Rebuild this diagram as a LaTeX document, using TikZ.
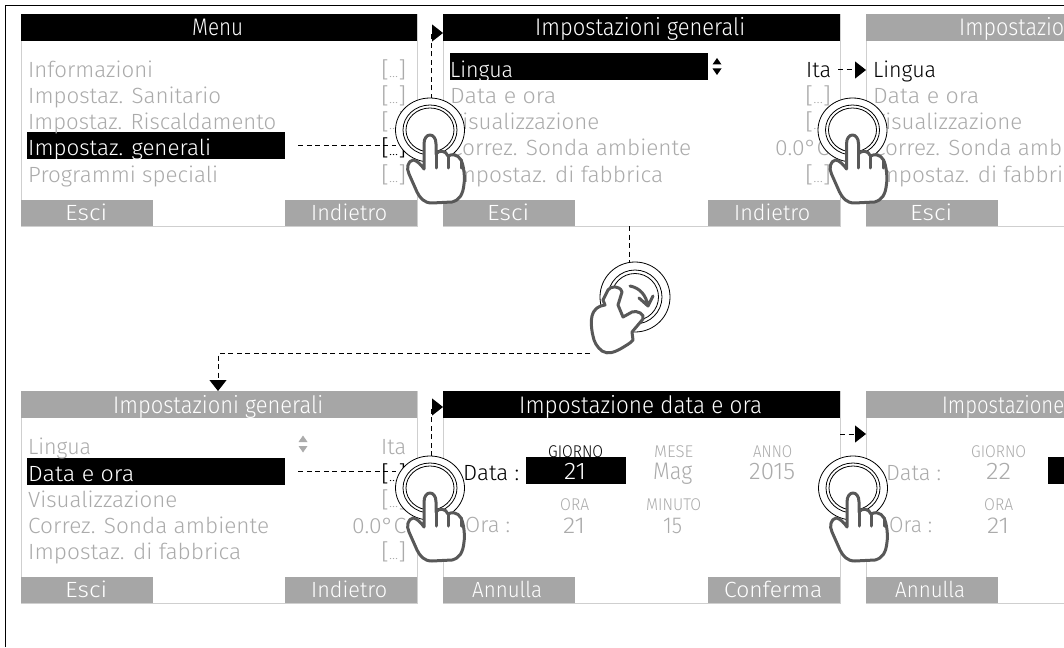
\documentclass[tikz,border=0pt]{standalone}
\usepackage{fontspec}
\usepackage{graphicx}
\setmainfont{Fira Sans Light}
\usetikzlibrary{arrows.meta,shapes.geometric}
\definecolor{soft}{HTML}{ABABAB}
\definecolor{barg}{HTML}{A6A6A6}
\definecolor{edgeg}{HTML}{CFCFCF}
\definecolor{handg}{HTML}{585858}
\newcounter{tc}
\newcommand{\T}[6][22]{\stepcounter{tc}\node[name=t\thetc,anchor=base west,inner sep=0pt,text=#5] at (#2,#3) {\resizebox{#4pt}{\height}{\fontsize{#1pt}{#1pt}\selectfont #6}};}
\newcommand{\Dt}{[{\fontsize{13pt}{13pt}\selectfont...}]}
\newcommand{\Panel}[6]{% name, x0, y0, x1, header colour, extra
  \node[name=#1,minimum width=#4pt-#2pt,minimum height=212pt,draw=edgeg,line width=1pt,anchor=north west,inner sep=0pt] at (#2,#3) {};
  \node[name=#1h,minimum width=#4pt-#2pt,minimum height=27pt,fill=#5,anchor=north west,inner sep=0pt] at (#2,#3) {};
  \node[name=#1f,minimum width=132pt,minimum height=26pt,fill=barg,anchor=south west,inner sep=0pt] at ([yshift=-212pt]#2,#3) {};
  #6}
\newcommand{\RightFoot}[2]{\node[name=#1,minimum width=132pt,minimum height=26pt,fill=barg,anchor=south east,inner sep=0pt] at (#2) {};}
\newcommand{\Bar}[5]{\node[name=#1,minimum width=#4pt-#2pt,minimum height=#5pt,fill=black,anchor=north west,inner sep=0pt] at (#2,#3) {};}
\newcommand{\Updown}[3]{\fill[#3] (#1-4.5,#2-2) -- (#1+4.5,#2-2) -- (#1,#2-8.5) -- cycle (#1-4.5,#2+2) -- (#1+4.5,#2+2) -- (#1,#2+8.5) -- cycle;}
\tikzset{
  x=1pt,y=-1pt,
  link/.style={line width=1pt,black,dash pattern=on 5pt off 3.5pt},
  tip/.style={-{Triangle[length=11pt,width=17pt,black]}},
  ring/.style={ellipse,draw=black,line width=0.8pt,fill=white,inner sep=0pt},
  hand/.style={draw=handg,line width=3pt,fill=white,line join=round,line cap=round},
}
\newcommand{\Button}[3]{%
  \node[ring,name=#1,minimum width=69pt,minimum height=64pt] at (#2,#3) {};
  \node[ring,name=#1m,minimum width=54pt,minimum height=50pt] at (#2,#3) {};
  \node[ring,name=#1i,minimum width=48pt,minimum height=44pt] at (#2,#3) {};
  \begin{scope}[shift={(#2,#3)}]
    \draw[hand] (-6,30) -- (-6,14) .. controls (-6,2) and (6,2) .. (6,14) -- (6,24)
      .. controls (8,20) and (16,20) .. (18,26) .. controls (21,24) and (28,24) .. (31,30)
      .. controls (34,36) and (35,48) .. (34,54) .. controls (33,64) and (30,70) .. (22,72)
      -- (2,73) .. controls (-6,73) and (-10,68) .. (-13,62) -- (-21,44)
      .. controls (-24,38) and (-22,31) .. (-17,30) .. controls (-13,30) and (-8,36) .. (-6,39) -- cycle;
    \draw[hand,fill=none] (6,24) -- (6,38) (18,26) -- (18,38) (31,30) -- (31,38);
  \end{scope}}
\begin{document}
\begin{tikzpicture}
\useasboundingbox (0,0) rectangle (1064,647);
\clip (0,0) rectangle (1064,647);
\fill[white] (0,0) rectangle (1064,647);
\draw[black,line width=1pt] (5.5,647) -- (5.5,5.5) -- (1064,5.5);
% ---- row 1 panels
\Panel{pa}{21}{14}{417}{black}{\RightFoot{paR}{417,226}}
\Panel{pb}{443}{14}{840}{black}{\RightFoot{pbR}{840,226}}
\Panel{pc}{866}{14}{1070}{barg}{}
% ---- row 2 panels
\Panel{pd}{21}{391}{417}{barg}{\RightFoot{pdR}{417,603}}
\Panel{pe}{443}{391}{840}{black}{\RightFoot{peR}{840,603}}
\Panel{pf}{866}{391}{1070}{barg}{}
% ---- highlight bars
\Bar{ba}{27}{132}{285}{27}
\Bar{bb}{450}{53}{708}{27}
\Bar{bd}{27}{458}{285}{27}
\Bar{be}{526}{457}{626}{27}
\Bar{bf}{1048}{457}{1070}{27}
% ---- panel 1
\T[24]{192}{36}{51}{white}{Menu}
\T{28}{77.5}{125}{soft}{Informazioni}
\T{28}{104}{193}{soft}{Impostaz. Sanitario}
\T{28}{130}{248}{soft}{Impostaz. Riscaldamento}
\T{28}{156}{183}{white}{Impostaz. generali}
\T{28}{182.5}{190}{soft}{Programmi speciali}
\T{381}{77.5}{25}{soft}{\Dt}
\T{381}{104}{25}{soft}{\Dt}
\T{381}{130}{25}{soft}{\Dt}
\T{381}{156}{25}{black}{\Dt}
\T{381}{182.5}{25}{soft}{\Dt}
\T{65}{220.5}{42}{white}{Esci}
\T{311}{220.5}{76}{white}{Indietro}
% ---- panel 2
\T[24]{535}{36}{210}{white}{Impostazioni generali}
\T{450}{77.5}{63}{white}{Lingua}
\T{450}{104}{106}{soft}{Data e ora}
\T{450}{130}{149}{soft}{Visualizzazione}
\T{450}{156}{241}{soft}{Correz. Sonda ambiente}
\T{450}{182.5}{213}{soft}{Impostaz. di fabbrica}
\Updown{717}{66.5}{black}
\T{806}{77.5}{25}{black}{Ita}
\T{805}{104}{26}{soft}{\Dt}
\T{805}{130}{26}{soft}{\Dt}
\T{775}{156}{54}{soft}{0.0°C}
\T{805}{182.5}{26}{soft}{\Dt}
\T{487}{220.5}{42}{white}{Esci}
\T{734}{220.5}{76}{white}{Indietro}
% ---- panel 3
\T[24]{959}{36}{105}{white}{Impostazio}
\T{873}{77.5}{63}{black}{Lingua}
\T{873}{104}{106}{soft}{Data e ora}
\T{873}{130}{149}{soft}{Visualizzazione}
\T{873}{156}{189}{soft}{Correz. Sonda amb}
\T{873}{182.5}{190}{soft}{Impostaz. di fabbri}
\T{910}{220.5}{42}{white}{Esci}
% ---- panel 4
\T[24]{113}{413}{210}{white}{Impostazioni generali}
\T{28}{454.5}{63}{soft}{Lingua}
\T{28}{481}{106}{white}{Data e ora}
\T{28}{507}{149}{soft}{Visualizzazione}
\T{28}{533}{241}{soft}{Correz. Sonda ambiente}
\T{28}{559.5}{213}{soft}{Impostaz. di fabbrica}
\Updown{303}{444}{soft}
\T{381}{454.5}{25}{soft}{Ita}
\T{381}{481}{25}{black}{\Dt}
\T{381}{507}{25}{soft}{\Dt}
\T{352}{533}{54}{soft}{0.0°C}
\T{381}{559.5}{25}{soft}{\Dt}
\T{65}{597.5}{42}{white}{Esci}
\T{311}{597.5}{76}{white}{Indietro}
% ---- panel 5
\T[24]{519}{413}{243}{white}{Impostazione data e ora}
\T[17]{548}{457}{55}{black}{GIORNO}
\T[17]{654}{457}{39}{soft}{MESE}
\T[17]{753}{457}{39}{soft}{ANNO}
\T[17]{560}{510}{29}{soft}{ORA}
\T[17]{646}{510}{55}{soft}{MINUTO}
\T{463}{480}{56}{black}{Data :}
\T{465}{532}{45}{soft}{Ora :}
\T[24]{564}{479}{22}{white}{21}
\T[24]{653}{479}{39}{soft}{Mag}
\T[24]{749}{479}{46}{soft}{2015}
\T[23]{563}{533}{22}{soft}{21}
\T[23]{663}{533}{19}{soft}{15}
\T{472}{597.5}{70}{white}{Annulla}
\T{724}{597.5}{98}{white}{Conferma}
% ---- panel 6
\T[24]{942}{413}{122}{white}{Impostazione}
\T[17]{971}{457}{55}{soft}{GIORNO}
\T[17]{984}{510}{29}{soft}{ORA}
\T{886}{480}{55}{soft}{Data :}
\T{889}{532}{43}{soft}{Ora :}
\T[24]{986}{479}{25}{soft}{22}
\T[23]{987}{533}{22}{soft}{21}
\T{895}{597.5}{70}{white}{Annulla}
% ---- named points
\coordinate (in-b) at (443,33);
\coordinate (in-c) at (866,70);
\coordinate (in-d) at (218,391);
\coordinate (in-e) at (443,407);
\coordinate (in-f) at (866,434);
\coordinate (out-f) at (840,434);
\coordinate (out-c) at (838,70);
\coordinate (knob) at (635,297);
\coordinate (out-a) at ([xshift=13pt]ba.east);
\coordinate (out-d) at ([xshift=13pt]bd.east);
\coordinate (turn) at (590,353.5);
\coordinate (top-k) at (629,262);
\coordinate (bot-b) at (629,226);
\coordinate (mid-d) at (218,353.5);
% ---- links
\draw[link] (out-a) -- (396,145.5 |- out-a);
\draw[link] (out-d) -- (396,470 |- out-d);
\draw[link,tip] (431,99) |- (in-b);
\draw[link,tip] (431,456) |- (in-e);
\draw[link,tip] (out-c) -- (in-c);
\draw[link,tip] (out-f) -- (in-f);
\draw[link] (bot-b) -- (top-k);
\draw[link,tip] (turn) -- (mid-d) -- (in-d);
% ---- press buttons
\Button{ka}{430}{130}
\Button{kb}{852.5}{130}
\Button{kd}{430}{488}
\Button{ke}{853}{488}
% ---- turning knob
\node[ring,name=ko,minimum width=70pt,minimum height=70pt] at (knob) {};
\node[ring,name=km,minimum width=54pt,minimum height=54pt] at (knob) {};
\node[ring,name=ki,minimum width=47pt,minimum height=47pt] at (knob) {};
\draw[hand] (603,300) -- (608,290) .. controls (610,286) and (620,285) .. (622,292)
  -- (618,305) -- (623,317) -- (632,312) .. controls (637,310) and (645,314) .. (643,319)
  -- (632,332) -- (633,340) .. controls (631,343) and (625,346) .. (622,348)
  .. controls (615,352) and (608,355) .. (602,351) .. controls (597,347) and (594,342) .. (593,336)
  .. controls (591,328) and (591,320) .. (592,316) .. controls (594,309) and (598,306) .. (605,305) -- cycle;
\draw[handg,line width=3pt,line cap=round,line join=round] (630,286) .. controls (640,288) and (646,295) .. (648,306) (639,298) -- (648,306) -- (653,296);
\end{tikzpicture}
\end{document}
